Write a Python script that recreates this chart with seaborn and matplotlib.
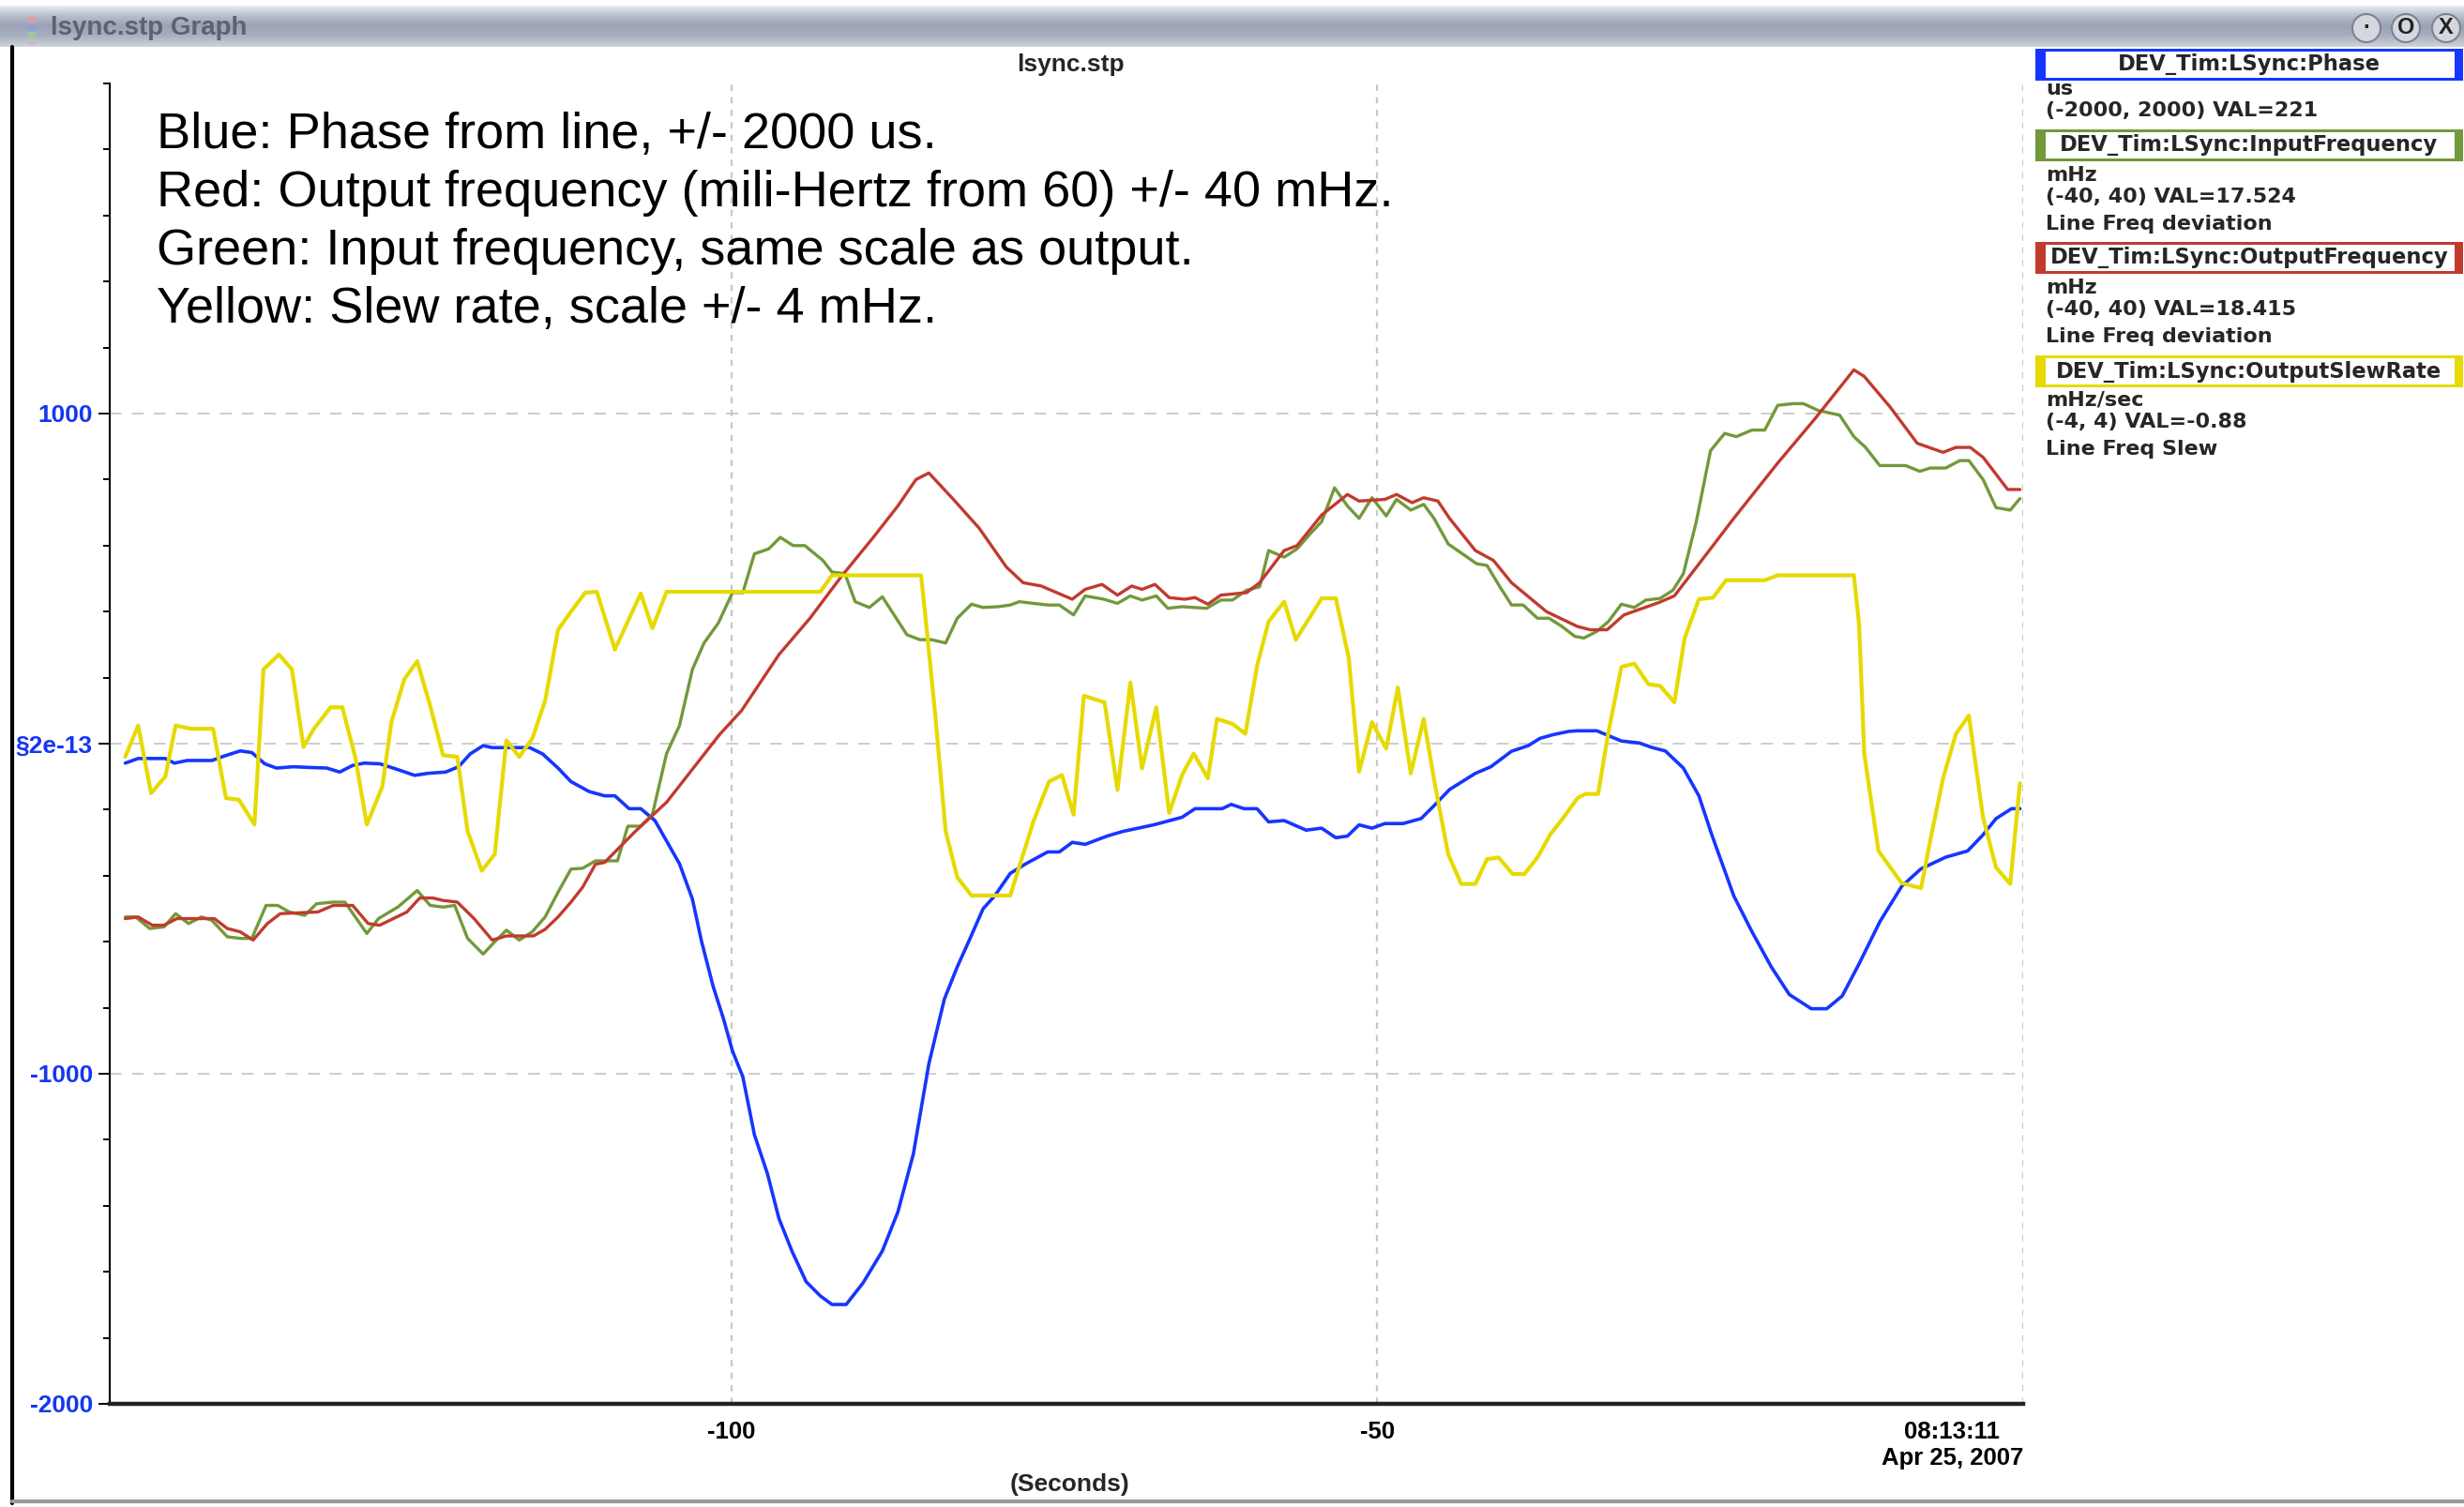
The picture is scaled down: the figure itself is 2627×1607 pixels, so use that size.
import numpy as np
import pandas as pd
import seaborn as sns
import matplotlib.pyplot as plt
from matplotlib.patches import Rectangle, Ellipse
from matplotlib.lines import Line2D
from matplotlib.colors import LinearSegmentedColormap

# ---------------- data ----------------
# Phase from line (us), axis +/- 2000
phase_t = [-146.9, -145.9, -143.8, -143.1, -142.1, -140.2, -139.2, -138.0, -137.1, -136.1,
           -135.2, -133.9, -132.7, -131.3, -130.3, -129.3, -128.4, -127.2, -126.0, -124.5,
           -123.5, -122.1, -121.1, -120.2, -119.2, -118.5, -115.6, -114.6, -113.4, -112.4,
           -111.0, -109.8, -109.0, -107.9, -107.0, -105.9, -105.0, -104.0, -103.0, -102.3,
           -101.4, -100.6, -99.9, -99.1, -98.2, -97.2, -96.3, -95.3, -94.2, -93.1,
           -92.2, -91.1, -89.8, -88.3, -87.1, -85.9, -84.7, -83.5, -82.5, -81.6,
           -80.5, -79.6, -78.4, -77.2, -75.5, -74.6, -73.6, -72.6, -70.9, -69.7,
           -67.3, -65.1, -64.1, -62.0, -61.3, -60.3, -59.3, -58.4, -57.2, -55.5,
           -54.3, -53.2, -52.3, -51.4, -50.4, -49.4, -48.0, -46.6, -45.6, -44.4,
           -42.4, -41.2, -39.6, -38.3, -37.4, -36.4, -35.2, -34.5, -33.0, -31.1,
           -29.7, -28.7, -27.7, -26.3, -25.1, -24.1, -22.4, -21.0, -19.5, -18.1,
           -16.4, -15.2, -14.0, -12.7, -11.1, -9.4, -7.9, -6.0, -4.3, -3.1,
           -2.1, -0.9, -0.25]
phase_us = [-59, -45, -45, -59, -51, -51, -37, -22, -27, -61,
            -74, -70, -72, -74, -86, -66, -59, -61, -76, -96,
            -90, -86, -70, -31, -6, -12, -12, -31, -74, -115,
            -145, -158, -158, -197, -197, -233, -295, -364, -471, -598,
            -735, -833, -931, -1009, -1185, -1302, -1439, -1537, -1630, -1673,
            -1699, -1699, -1634, -1537, -1419, -1243, -970, -774, -676, -598,
            -500, -461, -393, -364, -328, -328, -299, -305, -280, -266,
            -246, -223, -197, -197, -184, -197, -197, -237, -233, -262,
            -256, -285, -280, -246, -256, -242, -242, -227, -188, -139,
            -90, -70, -23, -6, 16, 27, 37, 39, 39, 8,
            2, -12, -22, -74, -158, -276, -461, -569, -676, -760,
            -803, -803, -764, -667, -540, -432, -379, -344, -325, -276,
            -227, -197, -197]

# Input frequency (mHz from 60), axis +/- 40
infreq_t = [-146.9, -146.1, -145.0, -143.9, -143.0, -142.0, -141.0, -140.2, -139.0, -138.0,
            -137.1, -136.0, -135.1, -134.2, -133.0, -132.1, -130.8, -129.9, -128.2, -127.3,
            -125.8, -124.3, -123.3, -122.3, -121.4, -120.4, -119.2, -118.3, -117.4, -116.4,
            -115.4, -114.4, -113.4, -112.4, -111.5, -110.5, -108.8, -108.0, -107.0, -106.1,
            -105.0, -104.0, -103.0, -102.1, -101.0, -99.9, -99.1, -98.2, -97.1, -96.2,
            -95.2, -94.3, -92.9, -92.2, -91.2, -90.4, -89.3, -88.3, -86.4, -85.4,
            -84.5, -83.4, -82.5, -81.4, -80.5, -79.3, -78.4, -77.7, -75.5, -74.6,
            -73.5, -72.6, -71.2, -70.1, -69.1, -68.2, -67.1, -66.2, -65.1, -63.2,
            -62.1, -61.2, -60.1, -59.1, -58.4, -57.2, -56.2, -55.2, -54.3, -53.3,
            -52.3, -51.4, -50.4, -49.3, -48.5, -47.4, -46.4, -45.6, -44.5, -43.4,
            -42.3, -41.5, -40.5, -39.6, -38.7, -37.6, -36.7, -35.7, -34.7, -34.0,
            -33.0, -32.1, -31.1, -30.1, -29.2, -28.1, -27.1, -26.3, -25.3, -24.2,
            -23.1, -22.2, -21.0, -20.0, -19.0, -17.8, -17.0, -15.9, -14.2, -13.1,
            -12.2, -11.1, -9.1, -8.0, -7.2, -6.0, -4.9, -4.2, -3.1, -2.1,
            -1.0, -0.25]
infreq_mhz = [-10.5, -10.5, -11.2, -11.1, -10.3, -10.9, -10.5, -10.7, -11.7, -11.8,
              -11.8, -9.8, -9.8, -10.2, -10.4, -9.7, -9.6, -9.6, -11.5, -10.6,
              -9.9, -8.9, -9.8, -9.9, -9.8, -11.8, -12.75, -12.0, -11.3, -11.9,
              -11.4, -10.5, -9.0, -7.6, -7.55, -7.1, -7.1, -5.0, -5.0, -4.3,
              -0.6, 1.1, 4.5, 6.1, 7.3, 9.15, 9.15, 11.5, 11.8, 12.5,
              12.0, 12.0, 11.1, 10.4, 10.3, 8.6, 8.25, 8.9, 6.6, 6.3,
              6.3, 6.1, 7.6, 8.45, 8.25, 8.3, 8.4, 8.6, 8.4, 8.4,
              7.8, 8.95, 8.76, 8.5, 8.95, 8.7, 8.95, 8.2, 8.3, 8.2,
              8.7, 8.7, 9.3, 9.5, 11.7, 11.3, 11.8, 12.7, 13.45, 15.5,
              14.4, 13.65, 14.9, 13.8, 14.8, 14.15, 14.5, 13.65, 12.1, 11.5,
              10.9, 10.8, 9.5, 8.4, 8.4, 7.6, 7.6, 7.1, 6.5, 6.4,
              6.8, 7.4, 8.45, 8.25, 8.7, 8.8, 9.3, 10.3, 13.45, 17.75,
              18.8, 18.6, 19.0, 19.0, 20.5, 20.6, 20.6, 20.2, 19.9, 18.6,
              17.95, 16.85, 16.85, 16.5, 16.7, 16.7, 17.15, 17.15, 16.0, 14.3,
              14.15, 14.85]

# Output frequency (mHz from 60), axis +/- 40
outfreq_t = [-146.9, -145.9, -144.8, -143.9, -142.9, -140.0, -139.0, -138.0, -137.0, -135.9,
             -134.9, -132.0, -130.8, -129.3, -128.1, -127.2, -125.1, -124.1, -123.1, -122.3,
             -121.2, -119.9, -118.5, -117.4, -115.3, -114.4, -113.4, -112.4, -111.5, -110.5,
             -109.8, -107.4, -105.0, -100.9, -99.2, -96.3, -93.9, -91.5, -89.0, -87.1,
             -85.7, -84.7, -82.8, -80.8, -78.7, -77.4, -76.0, -73.6, -72.6, -71.3,
             -70.1, -69.0, -68.2, -67.2, -66.1, -64.9, -64.1, -63.1, -62.1, -60.1,
             -59.1, -57.2, -56.2, -54.3, -52.3, -51.4, -49.4, -48.5, -47.3, -46.4,
             -45.3, -44.4, -42.4, -41.0, -39.6, -36.9, -34.5, -33.5, -32.2, -30.9,
             -28.2, -27.0, -24.3, -22.4, -19.0, -16.1, -13.1, -12.3, -10.3, -8.2,
             -6.2, -5.2, -4.1, -3.1, -1.2, -0.25]
outfreq_mhz = [-10.6, -10.5, -11.0, -11.0, -10.6, -10.6, -11.2, -11.4, -11.9, -10.9,
               -10.3, -10.2, -9.8, -9.8, -10.9, -11.0, -10.2, -9.35, -9.35, -9.5,
               -9.6, -10.6, -11.9, -11.65, -11.65, -11.25, -10.5, -9.6, -8.7, -7.3,
               -7.2, -5.3, -3.55, 0.55, 2.0, 5.4, 7.6, 10.1, 12.5, 14.4,
               16.0, 16.4, 14.8, 13.05, 10.7, 9.75, 9.55, 8.75, 9.35, 9.65,
               9.0, 9.55, 9.35, 9.65, 8.85, 8.75, 8.85, 8.45, 9.0, 9.15,
               9.75, 11.7, 12.0, 13.85, 15.1, 14.7, 14.8, 15.1, 14.6, 14.9,
               14.7, 13.65, 11.7, 11.1, 9.75, 8.0, 7.1, 6.9, 6.9, 7.8,
               8.55, 8.95, 11.7, 13.65, 17.0, 19.7, 22.65, 22.25, 20.4, 18.2,
               17.65, 17.95, 17.95, 17.35, 15.4, 15.4]

# Output slew rate (mHz/sec), axis +/- 4
slew_t = [-146.9, -145.9, -144.9, -143.8, -143.0, -141.8, -140.1, -139.1, -138.1, -136.9,
          -136.2, -135.0, -134.0, -133.1, -132.3, -131.0, -130.1, -129.1, -128.2, -127.0,
          -126.3, -125.3, -124.3, -123.3, -122.3, -121.2, -120.4, -119.3, -118.3, -117.4,
          -116.4, -115.4, -114.4, -113.4, -112.4, -111.3, -110.4, -109.0, -108.0, -107.0,
          -106.1, -105.0, -93.1, -92.2, -85.3, -84.9, -84.2, -83.4, -82.5, -81.4,
          -78.4, -76.6, -75.4, -74.4, -73.5, -72.7, -71.1, -70.1, -69.1, -68.2,
          -67.1, -66.1, -65.1, -64.2, -63.1, -62.4, -61.2, -60.2, -59.3, -58.4,
          -57.2, -56.3, -54.3, -53.2, -52.2, -51.4, -50.4, -49.3, -48.4, -47.4,
          -46.4, -45.5, -44.5, -43.5, -42.4, -41.5, -40.6, -39.5, -38.6, -37.6,
          -36.6, -35.6, -34.5, -33.9, -32.9, -32.1, -31.1, -30.1, -29.0, -28.1,
          -27.0, -26.2, -25.1, -24.0, -23.0, -20.0, -19.0, -13.1, -12.7, -12.3,
          -11.2, -9.4, -7.9, -7.2, -6.2, -5.2, -4.2, -3.1, -2.1, -1.0,
          -0.25]
slew_mhz_s = [-0.08, 0.11, -0.30, -0.20, 0.11, 0.09, 0.09, -0.33, -0.34, -0.49,
              0.45, 0.54, 0.45, -0.02, 0.09, 0.22, 0.22, -0.08, -0.49, -0.26,
              0.13, 0.39, 0.50, 0.23, -0.07, -0.08, -0.53, -0.77, -0.67, 0.02,
              -0.08, 0.03, 0.26, 0.69, 0.80, 0.915, 0.92, 0.57, 0.74, 0.91,
              0.70, 0.92, 0.92, 1.02, 1.02, 0.72, 0.17, -0.53, -0.81, -0.92,
              -0.92, -0.47, -0.23, -0.19, -0.43, 0.29, 0.25, -0.28, 0.37, -0.15,
              0.22, -0.42, -0.19, -0.06, -0.21, 0.15, 0.12, 0.06, 0.47, 0.74,
              0.86, 0.63, 0.88, 0.88, 0.52, -0.17, 0.13, -0.03, 0.34, -0.18,
              0.15, -0.26, -0.67, -0.85, -0.85, -0.70, -0.69, -0.79, -0.79, -0.69,
              -0.55, -0.45, -0.33, -0.305, -0.305, 0.07, 0.465, 0.485, 0.36, 0.35,
              0.25, 0.64, 0.875, 0.885, 0.99, 0.99, 1.02, 1.02, 0.72, -0.06,
              -0.65, -0.845, -0.875, -0.59, -0.21, 0.06, 0.17, -0.45, -0.75, -0.85,
              -0.24]

x_ticks = [-100, -50, 0]
x_tick_labels = ["-100", "-50", "08:13:11\nApr 25, 2007"]
y_ticks = [-2000, -1000, 0, 1000]
y_tick_labels = ["-2000", "-1000", "\u00a72e-13", "1000"]

notes = ["Blue: Phase from line, +/- 2000 us.",
         "Red: Output frequency (mili-Hertz from 60) +/- 40 mHz.",
         "Green: Input frequency, same scale as output.",
         "Yellow: Slew rate, scale +/- 4 mHz."]

legend_names = ["DEV_Tim:LSync:Phase", "DEV_Tim:LSync:InputFrequency",
                "DEV_Tim:LSync:OutputFrequency", "DEV_Tim:LSync:OutputSlewRate"]
legend_lines = [["us", "(-2000, 2000) VAL=221"],
                ["mHz", "(-40, 40) VAL=17.524", "Line Freq deviation"],
                ["mHz", "(-40, 40) VAL=18.415", "Line Freq deviation"],
                ["mHz/sec", "(-4, 4) VAL=-0.88", "Line Freq Slew"]]

BLUE = "#1636ff"
GREEN = "#72993a"
RED = "#c23a2e"
YELLOW = "#e6da00"

# ---------------- figure ----------------
W, H = 2627, 1607


def fx(px):
    return px / W


def fy(py):
    return 1 - py / H


sns.set_style("white")
plt.rcParams['font.family'] = ['Liberation Sans', 'DejaVu Sans']

fig = plt.figure(figsize=(W / 100, H / 100), dpi=100)
fig.patch.set_facecolor("white")

# plot box: x 117..2157 px, y 89..1497 px
ax = fig.add_axes([fx(117), fy(1497), fx(2157) - fx(117), (1497 - 89) / H])
ax_f = ax.twinx()
ax_s = ax.twinx()

sns.lineplot(x=phase_t, y=phase_us, ax=ax, color=BLUE, lw=2.6,
             estimator=None, sort=False)
sns.lineplot(x=infreq_t, y=infreq_mhz, ax=ax_f, color=GREEN, lw=2.4,
             estimator=None, sort=False)
sns.lineplot(x=outfreq_t, y=outfreq_mhz, ax=ax_f, color=RED, lw=2.4,
             estimator=None, sort=False)
sns.lineplot(x=slew_t, y=slew_mhz_s, ax=ax_s, color=YELLOW, lw=3.0,
             estimator=None, sort=False)

XMIN = -148.1
ax.set_xlim(XMIN, 0)
ax.set_ylim(-2000, 2000)
ax_f.set_ylim(-40, 40)
ax_s.set_ylim(-4, 4)
for tw in (ax_f, ax_s):
    tw.set_xlim(XMIN, 0)
    tw.axis("off")

# ticks and grid
ax.set_yticks(y_ticks)
ax.set_yticklabels(y_tick_labels)
ax.set_yticks(np.arange(-2000, 2001, 200), minor=True)
ax.set_xticks(x_ticks)
ax.set_xticklabels(x_tick_labels)
ax.set_xticks(np.arange(-140, 1, 10), minor=True)
ax.yaxis.grid(True, which="major", color="#c8c8c8", lw=1.3, ls=(0, (7, 6)))
ax.xaxis.grid(True, which="major", color="#c8c8c8", lw=1.6, ls=(0, (3, 3)))
ax.set_axisbelow(True)

for side in ("top", "right"):
    ax.spines[side].set_visible(False)
ax.spines["left"].set_color("black")
ax.spines["left"].set_linewidth(1.5)
ax.spines["bottom"].set_color("#222222")
ax.spines["bottom"].set_linewidth(3.2)

ax.tick_params(axis="both", which="major", direction="out", length=9, width=1.4,
               color="black", pad=4)
ax.tick_params(axis="both", which="minor", direction="out", length=5, width=1.4,
               color="black")
ax.tick_params(axis="y", which="major", labelsize=19, labelcolor="#1636f0")
ax.tick_params(axis="x", which="major", labelsize=18.5, labelcolor="black")
for lab in ax.get_yticklabels() + ax.get_xticklabels():
    lab.set_fontweight("bold")
last = ax.get_xticklabels()[-1]
last.set_horizontalalignment("right")
last.set_multialignment("center")
ax.set_xlabel("")
ax.set_ylabel("")

# titles
fig.text(fx(1141), fy(69), "lsync.stp", ha="center", va="center",
         fontsize=19, fontweight="bold")
fig.text(fx(1141), fy(1583), "(Seconds)", ha="center", va="center",
         fontsize=19, fontweight="bold")

# explanatory notes
for i, s in enumerate(notes):
    fig.text(fx(167), fy(158 + 62 * i), s, ha="left", va="baseline", fontsize=39,
             color="black")

# legend panel on the right
box_colors = [BLUE, GREEN, RED, YELLOW]
box_top = [52, 138, 258, 379]
line_y0 = [95, 187, 307, 427]
for c, name, top, lines, y0 in zip(box_colors, legend_names, box_top, legend_lines, line_y0):
    bh = 34
    fig.add_artist(Rectangle((fx(2170), fy(top + bh)), fx(2626) - fx(2170), bh / H,
                             transform=fig.transFigure, facecolor=c, edgecolor="none"))
    fig.add_artist(Rectangle((fx(2181), fy(top + bh - 3)), fx(2617) - fx(2181), (bh - 6) / H,
                             transform=fig.transFigure, facecolor="white", edgecolor="none"))
    fig.text(fx(2398), fy(top + bh / 2), name, ha="center", va="center",
             fontsize=16.3, fontweight="bold", family=["DejaVu Sans"])
    for j, s in enumerate(lines):
        yy = y0 + [0, 23, 52][j]
        fig.text(fx(2181), fy(yy), s, ha="left", va="center", fontsize=16,
                 fontweight="bold", family=["DejaVu Sans"])

# window chrome: title bar, borders
bar = fig.add_axes([0, fy(50), 1, 44 / H])
grad = np.linspace(0, 1, 64).reshape(-1, 1)
cmap = LinearSegmentedColormap.from_list(
    "bar", ["#eef0f4", "#b9bfcc", "#9aa2b5", "#a9b0c0", "#cfd3db"])
bar.imshow(grad, aspect="auto", cmap=cmap, extent=[0, 1, 0, 1])
bar.set_axis_off()
fig.text(fx(54), fy(30), "lsync.stp Graph", ha="left", va="center", fontsize=20,
         fontweight="bold", color="#5d6273")
for k, c in enumerate(["#d9a0a0", "#8aa0e0", "#9cc99c", "#c0c0c0"]):
    fig.add_artist(Rectangle((fx(30), fy(18 + 8 * k + 6)), 8 / W, 6 / H,
                             transform=fig.transFigure, facecolor=c, edgecolor="none"))
for xc, glyph in zip([2523, 2565, 2608], ["\u00b7", "O", "X"]):
    fig.add_artist(Ellipse((fx(xc), fy(30)), 30 / W, 30 / H, transform=fig.transFigure,
                           facecolor="#d4d7de", edgecolor="#7d8290", lw=1.5))
    fig.text(fx(xc), fy(30), glyph, ha="center", va="center", fontsize=17,
             fontweight="bold", color="#222222")

fig.add_artist(Line2D([fx(13), fx(13)], [fy(50), fy(1603)], color="black", lw=3,
                      transform=fig.transFigure))
fig.add_artist(Line2D([fx(13), 1], [fy(1601), fy(1601)], color="#9a9a9a", lw=3,
                      transform=fig.transFigure))

plt.savefig("out.png", dpi=100)
